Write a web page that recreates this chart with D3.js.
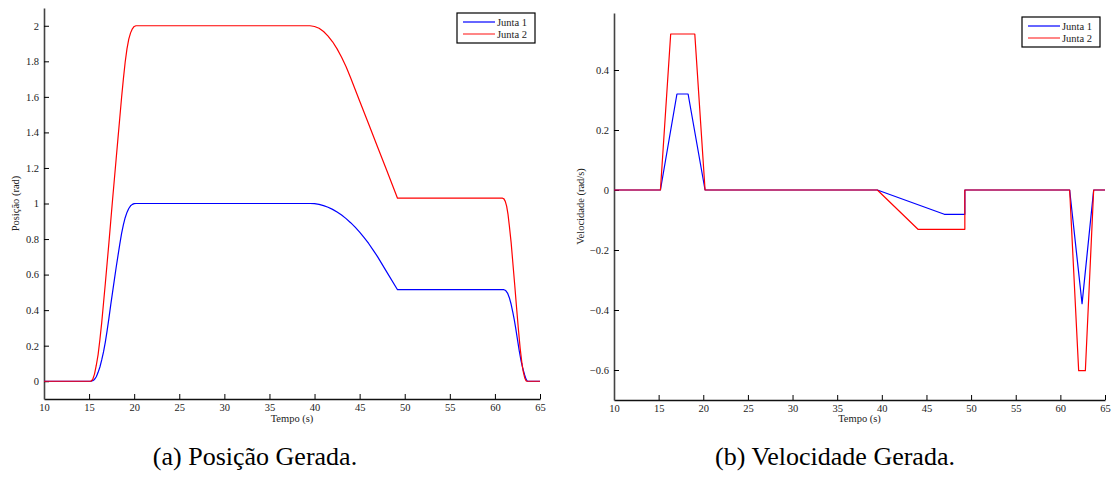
<!DOCTYPE html>
<html>
<head>
<meta charset="utf-8">
<script src="https://cdn.jsdelivr.net/npm/d3@7"></script>
<style>
  body { margin: 0; background: #fff; }
  svg text { font-family: "Liberation Serif", "DejaVu Serif", serif !important; fill: #222; }
</style>
</head>
<body>
<script>
// time ticks, shared by both plots
var timeTicks = [10, 15, 20, 25, 30, 35, 40, 45, 50, 55, 60, 65];
var posTicks = [0, 0.2, 0.4, 0.6, 0.8, 1, 1.2, 1.4, 1.6, 1.8, 2];
var velTicks = [-0.6, -0.4, -0.2, 0, 0.2, 0.4];
var seriesNames = ['Junta 1', 'Junta 2'];

// posicao gerada [t, rad]
var pos1 = [[10,0],[15.2,0],[15.4,0.003],[15.6,0.01],[15.8,0.025],[16.0,0.05],[16.2,0.08],[16.4,0.12],
  [16.6,0.165],[16.8,0.22],[17.0,0.285],[17.2,0.355],[17.4,0.43],[17.6,0.50],[17.8,0.57],
  [18.0,0.64],[18.2,0.705],[18.4,0.77],[18.6,0.83],[18.8,0.88],[19.0,0.92],[19.2,0.95],[19.4,0.972],
  [19.6,0.987],[19.8,0.995],[20.0,0.999],[20.2,1.0],[39.5,1.0],[40.0,0.999],[40.5,0.995],[41.0,0.988],
  [41.5,0.979],[42.0,0.967],[42.5,0.952],[43.0,0.935],[43.5,0.915],[44.0,0.892],[44.5,0.867],
  [45.0,0.839],[45.5,0.808],[46.0,0.775],[46.5,0.738],[47.0,0.70],[48.0,0.615],[49.2,0.515],
  [61.0,0.515],[61.2,0.51],[61.4,0.496],[61.6,0.47],[61.8,0.433],[62.0,0.385],[62.15,0.345],
  [62.3,0.30],[62.5,0.235],[62.7,0.17],[62.9,0.115],[63.1,0.07],[63.3,0.035],[63.45,0.012],
  [63.6,0],[65,0]];
var pos2 = [[10,0],[15.2,0],[15.4,0.01],[15.6,0.04],[15.8,0.09],[16.0,0.15],[16.2,0.235],[16.4,0.33],
  [16.6,0.44],[16.8,0.55],[17.0,0.665],[17.2,0.78],[17.4,0.90],[17.6,1.02],[17.8,1.135],[18.0,1.25],
  [18.2,1.365],[18.4,1.48],[18.6,1.595],[18.8,1.70],[19.0,1.795],[19.2,1.87],[19.4,1.925],[19.6,1.96],
  [19.8,1.983],[20.0,1.996],[20.2,2.0],[39.5,2.0],[40.0,1.996],[40.5,1.986],[41.0,1.968],[41.5,1.942],
  [42.0,1.91],[42.5,1.87],[43.0,1.823],[43.5,1.769],[44.0,1.707],[45.0,1.577],[46.0,1.447],
  [47.0,1.317],[48.0,1.187],[49.2,1.03],[60.85,1.03],[61.0,1.026],[61.15,1.012],[61.3,0.985],
  [61.45,0.94],[61.6,0.875],[61.8,0.78],[62.0,0.66],[62.2,0.54],[62.4,0.415],[62.6,0.295],
  [62.8,0.185],[63.0,0.10],[63.15,0.052],[63.3,0.02],[63.45,0.003],[63.55,0],[65,0]];

// velocidade gerada [t, rad/s]
var vel1 = [[10,0],[15.2,0],[17.05,0.32],[18.3,0.32],[20.2,0],[39.5,0],[47.0,-0.081],[49.3,-0.081],
  [49.3,0],[61.04,0],[62.43,-0.379],[63.73,0],[65,0]];
var vel2 = [[10,0],[15.2,0],[16.35,0.52],[19.05,0.52],[20.2,0],[39.5,0],[44.05,-0.131],[49.3,-0.131],
  [49.3,0],[61.04,0],[62.05,-0.602],[62.8,-0.602],[63.73,0],[65,0]];

var colors = ['#0000ff', '#ff0000'];

var svg = d3.select('body')
  .append('svg')
  .attr('width', 1114)
  .attr('height', 477);

function plot(opt) {
  var x = d3.scaleLinear().domain([10, 65]).range([opt.left, opt.right]);
  var y = d3.scaleLinear().domain(opt.yDomain).range([opt.bottom, opt.top]);
  var g = svg.append('g');

  // axes, matlab style ticks pointing in
  g.append('g')
    .attr('transform', `translate(0,${opt.bottom})`)
    .call(d3.axisBottom(x).tickValues(timeTicks).tickSizeInner(-5).tickSizeOuter(0).tickPadding(5))
    .call(a => a.select('.domain').attr('stroke', '#111').attr('stroke-width', 1.3))
    .call(a => a.selectAll('text').attr('font-size', '10.5px'));
  g.append('g')
    .attr('transform', `translate(${opt.left},0)`)
    .call(d3.axisLeft(y).tickValues(opt.yTicks).tickFormat(d3.format('~g')).tickSizeInner(-5).tickSizeOuter(0).tickPadding(5))
    .call(a => a.select('.domain').attr('stroke', '#444').attr('stroke-width', 1.6))
    .call(a => a.selectAll('text').attr('font-size', '10.5px'));

  var line = d3.line()
    .x(d => x(d[0]))
    .y(d => y(d[1]));

  opt.series.forEach(function(s, i) {
    g.append('path')
      .attr('d', line(s))
      .attr('fill', 'none')
      .attr('stroke', colors[i])
      .attr('stroke-width', 1.2)
      .attr('stroke-linejoin', 'round');
  });

  g.append('text')
    .attr('x', (opt.left + opt.right) / 2)
    .attr('y', 422)
    .attr('text-anchor', 'middle')
    .attr('font-size', '10.5px')
    .text('Tempo (s)');
  g.append('text')
    .attr('transform', `translate(${opt.ylabelX},${(opt.top + opt.bottom) / 2}) rotate(-90)`)
    .attr('text-anchor', 'middle')
    .attr('font-size', '10.5px')
    .text(opt.ylabel);

  // legend
  var lg = g.append('g').attr('transform', `translate(${opt.legend[0]},${opt.legend[1]})`);
  lg.append('rect')
    .attr('width', 78).attr('height', 30)
    .attr('fill', '#fff').attr('stroke', '#000').attr('stroke-width', 1.2);
  seriesNames.forEach(function(n, i) {
    lg.append('line')
      .attr('x1', 6).attr('x2', 38)
      .attr('y1', 9 + i * 12).attr('y2', 9 + i * 12)
      .attr('stroke', colors[i]).attr('stroke-width', i ? 1.6 : 1.2)
      .attr('stroke-opacity', i ? 0.6 : 1);
    lg.append('text')
      .attr('x', 40).attr('y', 13 + i * 12)
      .attr('font-size', '10.5px')
      .text(n);
  });

  svg.append('text')
    .attr('x', opt.capX)
    .attr('y', 465)
    .attr('text-anchor', 'middle')
    .attr('font-size', '26px')
    .style('fill', '#000')
    .text(opt.caption);
}

plot({
  left: 44, right: 540, top: 8, bottom: 399,
  yDomain: [-0.1, 2.1], yTicks: posTicks,
  series: [pos1, pos2],
  ylabel: 'Posição (rad)', ylabelX: 19,
  legend: [457, 13], caption: '(a) Posição Gerada.', capX: 255
});

plot({
  left: 614, right: 1105, top: 13, bottom: 400,
  yDomain: [-0.7, 0.59], yTicks: velTicks,
  series: [vel1, vel2],
  ylabel: 'Velocidade (rad/s)', ylabelX: 584,
  legend: [1022, 17], caption: '(b) Velocidade Gerada.', capX: 835
});
</script>
</body>
</html>
